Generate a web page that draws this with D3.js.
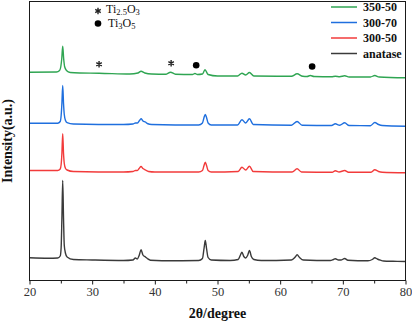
<!DOCTYPE html>
<html>
<head>
<meta charset="utf-8">
<script src="https://cdn.jsdelivr.net/npm/d3@7"></script>
<style>
  html, body { margin: 0; padding: 0; background: #fff; }
  svg { display: block; }
  text { font-family: "Liberation Serif", "Times New Roman", serif; }
</style>
</head>
<body>
<script>
// ---------------- data (2θ in degrees, intensity in a.u. with stacking offset) ----------------
const seriesNames = ["350-50", "300-70", "300-50", "anatase"];
const xTicks = [20, 30, 40, 50, 60, 70, 80];
const xMinorTicks = [25, 35, 45, 55, 65, 75];

const anatase = [
  [20,22.7],[23,22.3],[24.5,22.5],[24.9,24.5],[25.05,33],[25.17,62],[25.3,100],[25.43,62],[25.55,35],
  [25.75,27],[26,23.5],[27,21],[30,20.5],[35,20],[36.5,20.5],[36.9,22.5],[37.2,21.5],[37.5,25],
  [37.8,30.7],[38.1,25.5],[38.5,23.5],[38.8,22],[39.3,20.3],[43,19.8],[47,20],[47.6,22],
  [47.85,32],[48.05,40],[48.25,32],[48.5,23],[49,20.5],[52,20],[53.3,21],[53.7,26],[53.9,28.3],
  [54.2,24],[54.5,22.5],[54.8,25],[55.1,30],[55.4,24],[55.8,21],[57,20],[61.8,20.5],[62.4,23.5],
  [62.7,25.7],[63.1,23],[63.7,20.5],[68,20],[68.5,21],[68.8,21.7],[69.3,20.5],[69.7,20.5],
  [70.3,22],[70.8,20.3],[74,19.7],[74.7,21],[75.1,22.7],[75.5,21.5],[76,20.3],[76.5,19.5],
  [78,19.2],[80,19]
];
const s300_50 = [
  [20,110],[24.5,110],[24.9,111.5],[25.05,116],[25.17,127],[25.3,146.7],[25.43,127],[25.55,117],
  [25.75,112],[26,110.5],[27,109],[35,108.5],[36.5,109],[36.9,110],[37.2,110],[37.5,112],[37.8,114],
  [38.1,112],[38.5,110.5],[39,109],[40,108.5],[47,108.5],[47.6,110],[47.85,115],[48.05,118.3],
  [48.25,115],[48.5,110],[49,108.5],[53.3,109],[53.9,113.3],[54.5,110.5],[55.1,114.3],[55.7,109],
  [61.9,108.5],[62.7,111.7],[63.4,108.5],[68.3,108.2],[68.8,109.7],[69.4,108.5],[70.3,110],
  [70.9,108.3],[74.5,108.3],[75.1,110.7],[75.7,109],[76.3,108.3],[80,107.7]
];
const s300_70 = [
  [20,157.3],[24.5,157.3],[24.9,159],[25.05,165],[25.17,177],[25.3,195],[25.43,177],[25.55,166],
  [25.75,160],[26,157.8],[27,156.5],[35,156],[36.5,156.5],[36.9,157.5],[37.2,157.5],[37.5,159.5],
  [37.8,161.7],[38.1,159.5],[38.5,158.5],[38.8,157],[39.5,156],[47,155.5],[47.6,157.5],
  [47.85,163],[48.05,166],[48.25,163],[48.5,157.5],[49,155.5],[53.2,155.5],[53.9,160.7],
  [54.5,157.5],[55.1,161.7],[55.7,156],[61.8,155.3],[62.7,159],[63.5,155.3],[68.2,155],
  [68.8,156.7],[69.5,155.2],[70.3,157.7],[71,155],[74.4,154.8],[75.1,158],[75.7,156],
  [76.3,155],[80,154.3]
];
const s350_50 = [
  [20,208.3],[24.3,208.5],[24.8,210],[25.0,214],[25.15,222],[25.3,234.3],[25.45,222],[25.6,214],
  [25.9,210],[26.5,208],[28,207.5],[31.1,207.3],[36,206.5],[37.3,207.5],[37.8,209.3],[38.4,207.5],
  [39.5,206.5],[41.8,206.3],[42.5,208.3],[43.3,206.3],[46,206],[46.4,207],[46.8,206],[47.6,206.5],
  [48.0,210.7],[48.5,206],[50,204.5],[53.2,204.5],[53.9,207.3],[54.5,205.5],[55.1,208],
  [55.8,204.5],[61.8,204.2],[62.7,206.7],[63.6,204.2],[64.3,204],[64.8,205],[65.4,204],
  [68.2,203.8],[68.8,204.3],[69.5,203.8],[70.3,204.7],[71,203.5],[74.4,203.5],[75.1,205],
  [75.8,203.5],[80,202.7]
];
const seriesValues = [s350_50, s300_70, s300_50, anatase];
const starMarks = [[31.1, 216.3], [42.6, 217.3]];   // Ti2.5O3
const dotMarks = [[46.6, 215.3], [65.1, 214]];      // Ti3O5

// ---------------- styles / layout ----------------
const colors = ["#2fa552", "#1f6fde", "#f23b3b", "#3a3a3a"];
const W = 412, H = 326;
const plot = { left: 29.5, right: 405.5, top: 1.5, bottom: 280.5 };

const svg = d3.select("body").append("svg").attr("width", W).attr("height", H);

const x = d3.scaleLinear().domain([20, 80]).range([plot.left, plot.right]);
const y = d3.scaleLinear().domain([0, 278]).range([plot.bottom, plot.top + 1]);

// series lines
const line = d3.line().x(d => x(d[0])).y(d => y(d[1])).curve(d3.curveMonotoneX);
svg.append("g").selectAll("path").data(seriesValues).join("path")
  .attr("d", line)
  .attr("fill", "none")
  .attr("stroke", (d, i) => colors[i])
  .attr("stroke-width", 1.4)
  .attr("stroke-linejoin", "round");

// frame
svg.append("rect")
  .attr("x", plot.left).attr("y", plot.top)
  .attr("width", plot.right - plot.left).attr("height", plot.bottom - plot.top)
  .attr("fill", "none").attr("stroke", "#1a1a1a").attr("stroke-width", 1);

// x axis
const gx = svg.append("g").attr("transform", `translate(0,${plot.bottom})`)
  .call(d3.axisBottom(x).tickValues(xTicks).tickSize(4).tickPadding(3).tickFormat(d3.format("d")));
gx.select(".domain").remove();
gx.selectAll("line").attr("stroke", "#1a1a1a");
gx.selectAll("text").attr("font-size", 12.5).attr("fill", "#333")
  .style("font-family", '"Liberation Serif", "Times New Roman", serif');
const gxm = svg.append("g").attr("transform", `translate(0,${plot.bottom})`)
  .call(d3.axisBottom(x).tickValues(xMinorTicks).tickSize(3).tickFormat(""));
gxm.select(".domain").remove();
gxm.selectAll("line").attr("stroke", "#1a1a1a");

// axis titles
svg.append("text").attr("x", (plot.left + plot.right) / 2).attr("y", 318)
  .attr("text-anchor", "middle").attr("font-size", 14).attr("font-weight", "bold")
  .attr("fill", "#111").text("2θ/degree");
svg.append("text")
  .attr("transform", `translate(12,${(plot.top + plot.bottom) / 2}) rotate(-90)`)
  .attr("text-anchor", "middle").attr("font-size", 14).attr("font-weight", "bold")
  .attr("fill", "#111").text("Intensity(a.u.)");

// phase markers on the curve
const asterisk = d3.symbol().type(d3.symbolAsterisk).size(28);
svg.append("g").selectAll("path").data(starMarks).join("path")
  .attr("transform", d => `translate(${x(d[0])},${y(d[1])})`)
  .attr("d", asterisk).attr("fill", "none").attr("stroke", "#222").attr("stroke-width", 1.4);
svg.append("g").selectAll("circle").data(dotMarks).join("circle")
  .attr("cx", d => x(d[0])).attr("cy", d => y(d[1])).attr("r", 3.3).attr("fill", "#000");

// phase key
const key = svg.append("g");
key.append("path").attr("transform", "translate(98,11)").attr("d", asterisk)
  .attr("fill", "none").attr("stroke", "#222").attr("stroke-width", 1.4);
key.append("circle").attr("cx", 98).attr("cy", 23.5).attr("r", 3.3).attr("fill", "#000");
const t1 = key.append("text").attr("x", 106).attr("y", 13).attr("font-size", 12).attr("fill", "#111");
t1.append("tspan").text("Ti");
t1.append("tspan").attr("font-size", 8.5).attr("dy", 2).text("2.5");
t1.append("tspan").attr("dy", -2).text("O");
t1.append("tspan").attr("font-size", 8.5).attr("dy", 2).text("3");
const t2 = key.append("text").attr("x", 108).attr("y", 27).attr("font-size", 12).attr("fill", "#111");
t2.append("tspan").text("Ti");
t2.append("tspan").attr("font-size", 8.5).attr("dy", 2).text("3");
t2.append("tspan").attr("dy", -2).text("O");
t2.append("tspan").attr("font-size", 8.5).attr("dy", 2).text("5");

// legend
const leg = svg.append("g").selectAll("g").data(seriesNames).join("g")
  .attr("transform", (d, i) => `translate(331,${7 + i * 15.5})`);
leg.append("line").attr("x1", 0).attr("x2", 26).attr("y1", 0).attr("y2", 0)
  .attr("stroke", (d, i) => colors[i]).attr("stroke-width", 1.5);
leg.append("text").attr("x", 32).attr("y", 4.2).attr("font-size", 12).attr("font-weight", "bold")
  .attr("fill", "#111").text(d => d);
</script>
</body>
</html>
